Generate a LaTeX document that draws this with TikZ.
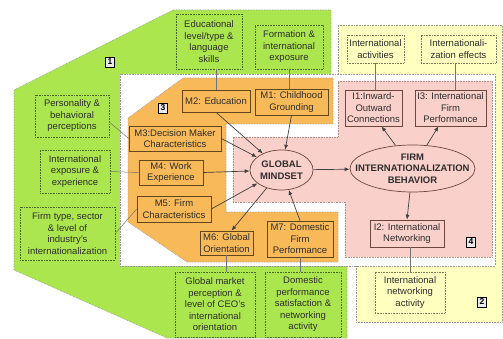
\documentclass[tikz,border=0pt]{standalone}
\usepackage{fontspec}
\setmainfont{Liberation Sans}
\usetikzlibrary{arrows.meta,calc,shapes.geometric}
\definecolor{grn}{RGB}{172,230,78}
\definecolor{grnb}{RGB}{70,105,40}
\definecolor{org}{RGB}{248,186,88}
\definecolor{orgb}{RGB}{100,70,30}
\definecolor{pnk}{RGB}{250,208,202}
\definecolor{pnkb}{RGB}{110,70,60}
\definecolor{ylw}{RGB}{255,255,192}
\definecolor{ylwb}{RGB}{120,120,90}
\definecolor{regb}{RGB}{150,150,150}
\definecolor{txt}{RGB}{45,45,45}
\begin{document}
\begin{tikzpicture}[x=1pt,y=-1pt,
  font=\fontsize{9.5}{11.5}\selectfont, text=txt,
  region/.style={draw=regb, densely dotted, line width=0.6pt},
  base/.style={align=center, inner sep=1pt, line width=0.6pt},
  gbox/.style={base, fill=grn, draw=grnb, densely dotted, line width=0.5pt},
  obox/.style={base, fill=org, draw=orgb},
  pbox/.style={base, fill=pnk, draw=pnkb},
  ybox/.style={base, fill=ylw, draw=ylwb, densely dotted, line width=0.5pt},
  ell/.style={ellipse, draw=pnkb, fill=pnk, line width=0.7pt, inner sep=0pt},
  boldtxt/.style={font=\fontsize{9.5}{11.5}\selectfont\bfseries, align=center, inner sep=0pt},
  arr/.style={draw=black!75, line width=0.7pt, -{Latex[length=5pt,width=4pt]}},
  link/.style={draw=black!55, line width=0.5pt},
  num/.style={draw=black, fill=black!8, line width=0.6pt, font=\fontsize{8.5}{9}\selectfont\bfseries, text=black, inner sep=0pt, minimum width=9pt, minimum height=10pt}
]
\useasboundingbox (0,0) rectangle (503,339);
\fill[white] (0,0) rectangle (503,339);
% regions
\draw[region, fill=grn] (173,10) -- (331,10) -- (331,100) -- (347,100) -- (347,338) -- (167,338) -- (14,270) -- (14,90) -- cycle;
\draw[region, fill=ylw] (338,25) -- (502,25) -- (502,322) -- (356,322) -- (356,100) -- (338,100) -- cycle;
\draw[region, fill=white] (120,74) rectangle (495,266);
\draw[region, fill=org] (128,118) -- (183,78) -- (333,78) -- (333,124) -- (226,124) -- (226,212) -- (338,212) -- (338,262) -- (187,262) -- (128,222) -- cycle;
\draw[region, draw=pnkb!60, fill=pnk] (338,81) -- (492,81) -- (492,257) -- (345,257) -- (345,202) -- (233,202) -- (233,137) -- (338,137) -- cycle;
% region labels
\node[num] (n1) at (110,62) {1};
\node[num] (n3) at (163,108) {3};
\node[num] (n4) at (471,242) {4};
\node[num] (n2) at (482,302) {2};
% green boxes
\node[gbox, minimum width=66pt, minimum height=55pt] (edu) at (209,41.5) {Educational\\level/type \&\\language\\skills};
\node[gbox, minimum width=68pt, minimum height=44pt] (form) at (289,47) {Formation \&\\international\\exposure};
\node[gbox, minimum width=74pt, minimum height=42pt] (pers) at (72,116) {Personality \&\\behavioral\\perceptions};
\node[gbox, minimum width=70pt, minimum height=43pt] (iexp) at (75,171.5) {International\\exposure \&\\experience};
\node[gbox, minimum width=95pt, minimum height=53pt] (ftype) at (67.5,233.5) {Firm type, sector\\\& level of\\industry’s\\internationalization};
\node[gbox, minimum width=80pt, minimum height=65pt] (gmp) at (215,304.5) {Global market\\perception \&\\level of CEO’s\\international\\orientation};
\node[gbox, minimum width=76pt, minimum height=65pt] (dom) at (303,304.5) {Domestic\\performance\\satisfaction \&\\networking\\activity};
% yellow boxes
\node[ybox, minimum width=57pt, minimum height=28pt] (iact) at (375.5,49) {International\\activities};
\node[ybox, minimum width=75pt, minimum height=28pt] (ieff) at (458.5,49) {Internationali-\\zation effects};
\node[ybox, minimum width=70pt, minimum height=41pt] (inet) at (410,292.5) {International\\networking\\activity};
% orange boxes
\node[obox, minimum width=68pt, minimum height=22pt] (m2) at (216,101) {M2: Education};
\node[obox, minimum width=73pt, minimum height=26pt] (m1) at (291.5,102) {M1: Childhood\\Grounding};
\node[obox, minimum width=92pt, minimum height=25pt] (m3) at (175,138.5) {M3:Decision Maker\\Characteristics};
\node[obox, minimum width=64pt, minimum height=25pt] (m4) at (171,172.5) {M4: Work\\Experience};
\node[obox, minimum width=74pt, minimum height=26pt] (m5) at (174,209) {M5: Firm\\Characteristics};
\node[obox, minimum width=53pt, minimum height=24pt] (m6) at (226.5,243) {M6: Global\\Orientation};
\node[obox, minimum width=66pt, minimum height=36pt] (m7) at (300,239) {M7: Domestic\\Firm\\Performance};
% pink boxes
\node[pbox, minimum width=57pt, minimum height=36pt] (i1) at (373.5,108) {I1:Inward-\\Outward\\Connections};
\node[pbox, minimum width=71pt, minimum height=36pt] (i3) at (450.5,108) {I3: International\\Firm\\Performance};
\node[pbox, minimum width=74pt, minimum height=27pt] (i2) at (407,233.5) {I2: International\\Networking};
% ellipses
\node[ell, minimum width=63pt, minimum height=40pt] (gm) at (281.5,170) {};
\node[boldtxt] (gmt) at (gm) {GLOBAL\\MINDSET};
\node[ell, minimum width=125pt, minimum height=47pt] (fib) at (412.5,168.5) {};
\node[boldtxt] (fibt) at (fib) {FIRM\\INTERNATIONALIZATION\\BEHAVIOR};
% plain links
\draw[link] (edu.south -| m2.north) -- (m2.north);
\draw[link] (form.south) -- (form.south |- m1.north);
\draw[link] (iact.south) -- (iact.south |- i1.north);
\draw[link] ([xshift=-3pt]ieff.south) -- ([xshift=-3pt]ieff.south |- i3.north);
\draw[link] ($(pers.east)+(0,6)$) -- (m3.west);
\draw[link] (iexp.east) -- (m4.west);
\draw[link] (ftype.east) -- (m5.west);
\draw[link] (m6.south) -- (m6.south |- gmp.north);
\draw[link] (m7.south) -- (m7.south |- dom.north);
\draw[link] (inet.north |- i2.south) -- (inet.north);
% arrows
\draw[arr] (m2.south) -- (gm);
\draw[arr] (m1.south) -- (gm);
\draw[arr] (m3.east) -- (gm);
\draw[arr] (m4.east) -- (gm);
\draw[arr] (m5.east) -- (gm);
\draw[arr] (gm) -- ([xshift=5pt]m6.north);
\draw[arr] (m7.north) -- (gm);
\draw[arr] (gm) -- (fib);
\draw[arr] (fib) -- ([xshift=8pt]i1.south);
\draw[arr] (fib) -- ([xshift=-12pt]i3.south);
\draw[arr] (fib) -- (i2.north);
\end{tikzpicture}
\end{document}
